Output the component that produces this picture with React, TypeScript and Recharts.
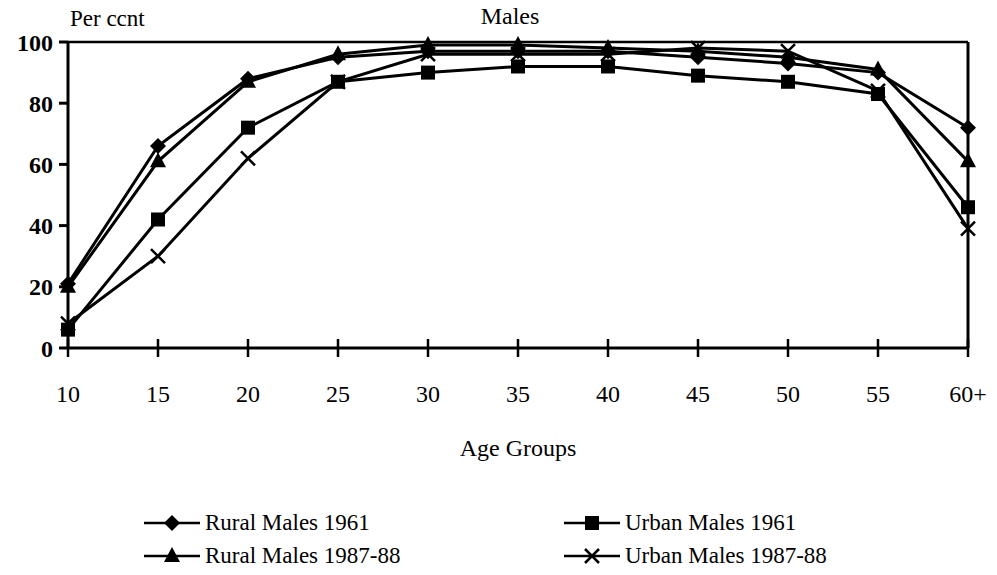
import { LineChart, Line, XAxis, YAxis, ReferenceLine } from "recharts";

const ageGroups = ["10", "15", "20", "25", "30", "35", "40", "45", "50", "55", "60+"];
const ruralMales1961 = [21, 66, 88, 95, 97, 97, 97, 95, 93, 90, 72];
const urbanMales1961 = [6, 42, 72, 87, 90, 92, 92, 89, 87, 83, 46];
const ruralMales1987 = [20, 61, 87, 96, 99, 99, 98, 97, 95, 91, 61];
const urbanMales1987 = [8, 30, 62, 87, 96, 96, 96, 98, 97, 84, 39];
const yTicks = [0, 20, 40, 60, 80, 100];

const data = ageGroups.map((age, i) => ({
  age,
  r61: ruralMales1961[i],
  u61: urbanMales1961[i],
  r87: ruralMales1987[i],
  u87: urbanMales1987[i],
}));

const FONT = "'Liberation Serif', 'DejaVu Serif', serif";

type Shape = "diamond" | "square" | "triangle" | "cross";

function markerPath(shape: Shape, cx: number, cy: number) {
  const s = 8;
  switch (shape) {
    case "diamond":
      return <path d={`M${cx},${cy - s} L${cx + s},${cy} L${cx},${cy + s} L${cx - s},${cy} Z`} fill="#000" />;
    case "square":
      return <rect x={cx - 7} y={cy - 7} width={14} height={14} fill="#000" />;
    case "triangle":
      return <path d={`M${cx},${cy - 9} L${cx + 8},${cy + 6} L${cx - 8},${cy + 6} Z`} fill="#000" />;
    default:
      return (
        <path
          d={`M${cx - 7},${cy - 7} L${cx + 7},${cy + 7} M${cx + 7},${cy - 7} L${cx - 7},${cy + 7}`}
          stroke="#000"
          strokeWidth={2.5}
          fill="none"
        />
      );
  }
}

const makeDot = (shape: Shape) => (props: any) => {
  const { cx, cy, index } = props;
  if (cx == null || cy == null) return <g key={index} />;
  return <g key={`${shape}-${index}`}>{markerPath(shape, cx, cy)}</g>;
};

const series: { key: string; name: string; shape: Shape }[] = [
  { key: "r61", name: "Rural Males 1961", shape: "diamond" },
  { key: "u61", name: "Urban Males 1961", shape: "square" },
  { key: "r87", name: "Rural Males 1987-88", shape: "triangle" },
  { key: "u87", name: "Urban Males 1987-88", shape: "cross" },
];

const XTick = (props: any) => {
  const { x, y, payload } = props;
  return (
    <g>
      <line x1={x} x2={x} y1={y - 9} y2={y + 9} stroke="#000" strokeWidth={2.5} />
      <text x={x} y={y + 54} textAnchor="middle" fontFamily={FONT} fontSize={24} fill="#000">
        {payload.value}
      </text>
    </g>
  );
};

function LegendItem({ name, shape }: { name: string; shape: Shape }) {
  return (
    <div style={{ display: "flex", alignItems: "center", height: 33 }}>
      <svg width={60} height={20}>
        <line x1={2} x2={58} y1={10} y2={10} stroke="#000" strokeWidth={2.5} />
        {markerPath(shape, 30, 10)}
      </svg>
      <span style={{ fontFamily: FONT, fontSize: 23, color: "#000", marginLeft: 3 }}>{name}</span>
    </div>
  );
}

export default function App() {
  return (
    <div style={{ position: "absolute", left: 0, top: 0, width: 997, height: 575, background: "#fff" }}>
      <LineChart
        width={997}
        height={575}
        data={data}
        margin={{ top: 42, right: 29, left: 8, bottom: 119 }}
      >
        <XAxis
          dataKey="age"
          height={108}
          stroke="#000"
          strokeWidth={3}
          tickLine={false}
          tickSize={0}
          tickMargin={0}
          tick={<XTick />}
          interval={0}
          label={{ value: "Age Groups", position: "insideBottom", offset: 0, fontFamily: FONT, fontSize: 24, fill: "#000" }}
        />
        <YAxis
          width={60}
          domain={[0, 100]}
          ticks={yTicks}
          stroke="#000"
          strokeWidth={3}
          tickSize={9}
          tickMargin={6}
          tick={{ fontFamily: FONT, fontSize: 24, fill: "#000", fontWeight: "bold" }}
        />
        <ReferenceLine y={100} stroke="#000" strokeWidth={2.5} />
        <ReferenceLine x="60+" stroke="#000" strokeWidth={3} />
        {series.map((s) => (
          <Line
            key={s.key}
            dataKey={s.key}
            name={s.name}
            stroke="#000"
            strokeWidth={3}
            dot={makeDot(s.shape)}
            activeDot={false}
            isAnimationActive={false}
          />
        ))}
      </LineChart>
      <div style={{ position: "absolute", left: 70, top: 6, fontFamily: FONT, fontSize: 23 }}>Per ccnt</div>
      <div style={{ position: "absolute", left: 0, width: 1020, top: 3, textAlign: "center", fontFamily: FONT, fontSize: 24 }}>
        Males
      </div>
      <div style={{ position: "absolute", left: 142, top: 506 }}>
        <LegendItem name={series[0].name} shape={series[0].shape} />
        <LegendItem name={series[2].name} shape={series[2].shape} />
      </div>
      <div style={{ position: "absolute", left: 562, top: 506 }}>
        <LegendItem name={series[1].name} shape={series[1].shape} />
        <LegendItem name={series[3].name} shape={series[3].shape} />
      </div>
    </div>
  );
}
